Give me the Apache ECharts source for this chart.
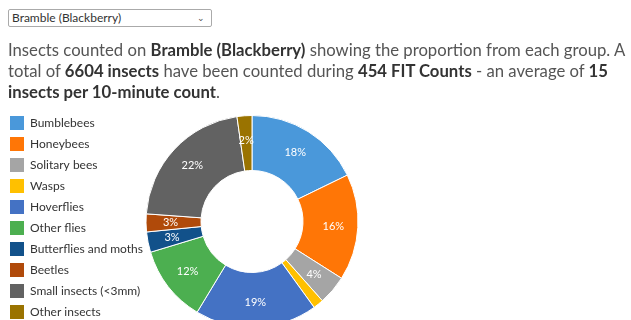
<!DOCTYPE html>
<html><head><meta charset="utf-8">
<script src="https://cdn.jsdelivr.net/npm/echarts@6/dist/echarts.min.js"></script>
<style>
html,body{margin:0;padding:0;background:#fff;width:631px;height:320px;overflow:hidden;}
#chart{position:absolute;left:0;top:0;width:631px;height:350px;}
#sel{position:absolute;left:8px;top:9px;width:204px;height:18px;border:1px solid #aaa;border-radius:2px;box-sizing:border-box;font-family:Lato,"Open Sans",sans-serif;font-size:12px;color:#333;line-height:16px;padding-left:3px;background:#fff;}
#sel span.arr{position:absolute;right:6px;top:0px;font-size:9px;color:#555;}
#txt{position:absolute;left:8px;top:40px;width:640px;font-family:Lato,"Open Sans",sans-serif;font-size:16.7px;line-height:21px;color:#555;white-space:nowrap;}
#txt b{color:#333;font-weight:bold;}
</style></head>
<body>
<div id="chart"></div>
<div id="sel">Bramble (Blackberry)<span class="arr">&#8964;</span></div>
<div id="txt">Insects counted on <b>Bramble (Blackberry)</b> showing the proportion from each group. A<br>total of <b>6604 insects</b> have been counted during <b>454 FIT Counts</b> - an average of <b>15</b><br><b>insects per 10-minute count</b>.</div>
<script>
const categories = ["Bumblebees","Honeybees","Solitary bees","Wasps","Hoverflies","Other flies","Butterflies and moths","Beetles","Small insects (<3mm)","Other insects"];
const counts = [1175,1070,294,105,1230,770,205,180,1425,150];
const colors = ["#4A98DA","#FF7606","#A5A5A5","#FFC000","#4472C4","#4CAF50","#12518A","#B04A0A","#626262","#9A7300"];
const total = counts.reduce((a,b)=>a+b,0);
const chart = echarts.init(document.getElementById('chart'));
chart.setOption({
  animation:false,
  color: colors,
  legend:{
    orient:'vertical', left:8, top:114, padding:0, icon:'rect', itemWidth:16, itemHeight:16, itemGap:3,
    textStyle:{fontFamily:'Lato, "Open Sans", sans-serif', fontSize:12, lineHeight:16, color:'#333'},
    data: categories
  },
  series:[{
    type:'pie', center:[252,221.5], radius:[51,106], startAngle:90, clockwise:true,
    avoidLabelOverlap:false,
    itemStyle:{borderColor:'#fff', borderWidth:1},
    label:{position:'inside', color:'#fff', fontSize:11, fontFamily:'Lato, "Open Sans", sans-serif',
      formatter:p=>Math.round(p.value/total*100)+'%'},
    labelLine:{show:false},
    data: categories.map((c,i)=>({name:c, value:counts[i]}))
  }]
});
</script>
</body></html>
